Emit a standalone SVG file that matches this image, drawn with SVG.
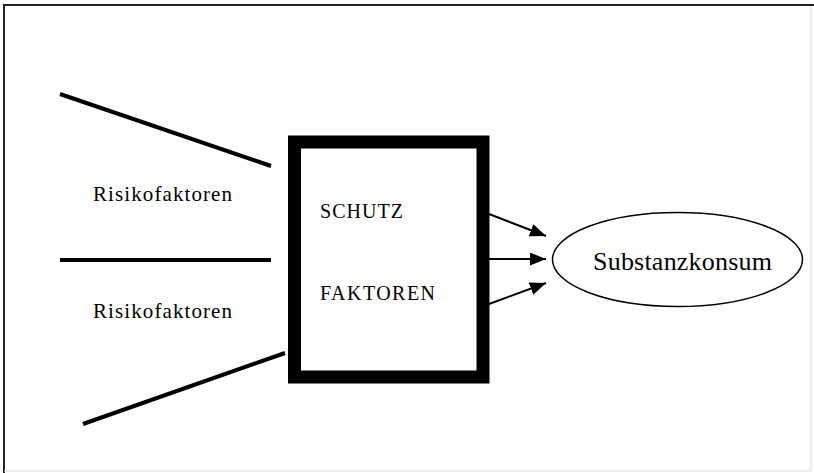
<svg xmlns="http://www.w3.org/2000/svg" width="814" height="473" viewBox="0 0 814 473">
<defs>
<style>
text{font-family:'Liberation Serif','Times New Roman','DejaVu Serif',serif;fill:#000}
.risk{stroke:#000;stroke-width:4;fill:none}
.arr{stroke:#000;stroke-width:2;fill:none}
</style>
<marker id="ah" viewBox="0 0 10 10" refX="10" refY="5" markerWidth="16" markerHeight="13" markerUnits="userSpaceOnUse" orient="auto" preserveAspectRatio="none">
<path d="M0,0 L10,5 L0,10 z" fill="#000"/>
</marker>
</defs>
<rect width="814" height="473" fill="#fff"/>
<g id="frame">
<line x1="3" y1="5" x2="814" y2="5" stroke="#222" stroke-width="2"/>
<line x1="4" y1="5" x2="4" y2="473" stroke="#222" stroke-width="2"/>
<line x1="811" y1="6" x2="811" y2="471" stroke="#ddd" stroke-width="1"/>
<line x1="4" y1="471" x2="811" y2="471" stroke="#ddd" stroke-width="1"/>
</g>
<g id="risk-lines">
<line class="risk" x1="60" y1="94" x2="271" y2="166"/>
<line class="risk" x1="60" y1="260" x2="271" y2="260"/>
<line class="risk" x1="83" y1="424" x2="285" y2="353"/>
</g>
<g id="risk1"><text x="93" y="201" font-family="Liberation Serif, serif" font-size="21" textLength="139" lengthAdjust="spacing">Risikofaktoren</text></g>
<g id="risk2"><text x="93" y="318" font-family="Liberation Serif, serif" font-size="21" textLength="139" lengthAdjust="spacing">Risikofaktoren</text></g>
<g id="schutz">
<rect x="294.5" y="142" width="188.5" height="235" fill="#fff" stroke="#000" stroke-width="13"/>
<text x="320" y="218" font-family="Liberation Serif, serif" font-size="20" textLength="83" lengthAdjust="spacing">SCHUTZ</text>
<text x="320" y="300" font-family="Liberation Serif, serif" font-size="20" textLength="115" lengthAdjust="spacing">FAKTOREN</text>
</g>
<g id="connectors">
<line class="arr" x1="489" y1="214" x2="546" y2="236" marker-end="url(#ah)"/>
<line class="arr" x1="489" y1="259" x2="546" y2="259" marker-end="url(#ah)"/>
<line class="arr" x1="489" y1="304" x2="546" y2="283" marker-end="url(#ah)"/>
</g>
<g id="substanzkonsum">
<ellipse cx="677.5" cy="259.5" rx="125" ry="47" fill="#fff" stroke="#000" stroke-width="1.5"/>
<text x="593" y="270" font-family="Liberation Serif, serif" font-size="26" textLength="179" lengthAdjust="spacing">Substanzkonsum</text>
</g>
</svg>
